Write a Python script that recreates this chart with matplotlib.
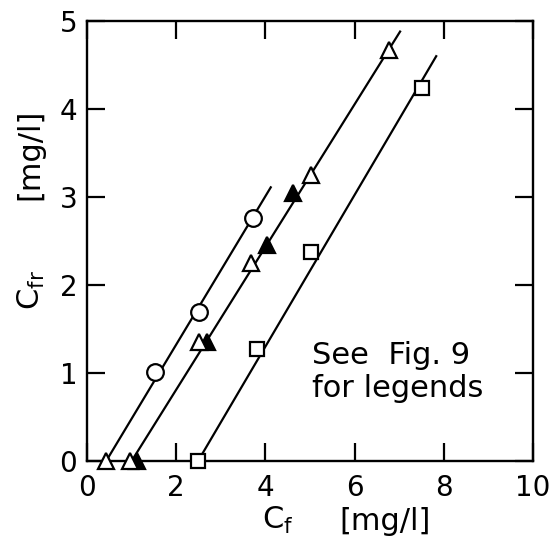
import numpy as np
import matplotlib
matplotlib.use('Agg')
import matplotlib.pyplot as plt

# open circles
circ_x = [1.52, 2.51, 3.72]
circ_y = [1.01, 1.69, 2.76]
circ_line_x = [0.43, 4.12]
circ_line_y = [0.0, 3.11]

# open triangles
otri_x = [0.43, 0.96, 2.52, 3.67, 5.02, 6.77]
otri_y = [0.0, 0.0, 1.35, 2.25, 3.25, 4.67]

# filled triangles
ftri_x = [1.12, 2.69, 4.03, 4.62]
ftri_y = [0.0, 1.35, 2.45, 3.05]

tri_line_x = [1.0, 7.02]
tri_line_y = [0.0, 4.88]

# open squares
sq_x = [2.49, 3.81, 5.02, 7.51]
sq_y = [0.0, 1.27, 2.38, 4.24]
sq_line_x = [2.49, 7.83]
sq_line_y = [0.0, 4.60]

xticks = [0, 2, 4, 6, 8, 10]
yticks = [0, 1, 2, 3, 4, 5]

plt.rcParams['font.family'] = 'DejaVu Sans'

fig = plt.figure(figsize=(5.56, 5.47), dpi=100)
ax = fig.add_axes([0.1565, 0.1572, 0.8021, 0.8044])

lw = 1.6
ax.plot(circ_line_x, circ_line_y, color='black', lw=lw, zorder=2)
ax.plot(tri_line_x, tri_line_y, color='black', lw=lw, zorder=2)
ax.plot(sq_line_x, sq_line_y, color='black', lw=lw, zorder=2)

ax.plot(circ_x, circ_y, 'o', ms=12, mfc='white', mec='black', mew=1.6, zorder=3, clip_on=False)
ax.plot(ftri_x, ftri_y, '^', ms=12, mfc='black', mec='black', mew=1.6, zorder=3, clip_on=False)
ax.plot(otri_x, otri_y, '^', ms=12, mfc='white', mec='black', mew=1.6, zorder=4, clip_on=False)
ax.plot(sq_x, sq_y, 's', ms=9.5, mfc='white', mec='black', mew=1.6, zorder=3, clip_on=False)

ax.set_xlim(0, 10)
ax.set_ylim(0, 5)
ax.set_xticks(xticks)
ax.set_yticks(yticks)
ax.tick_params(direction='in', length=13, width=1.6, labelsize=20,
               top=True, right=True, pad=7)
ax.tick_params(axis='x', pad=9)
for s in ax.spines.values():
    s.set_linewidth(1.7)

ax.text(5.05, 1.01, 'See  Fig. 9\nfor legends', fontsize=22, ha='left', va='center',
        linespacing=1.15)

fig.text(0.472, 0.02, r'$\mathregular{C_f}$', fontsize=22, ha='left', va='bottom')
fig.text(0.61, 0.02, '[mg/l]', fontsize=22, ha='left', va='bottom')
fig.text(0.028, 0.47, r'$\mathregular{C_{fr}}$', fontsize=22, rotation=90, ha='left', va='center')
fig.text(0.028, 0.718, '[mg/l]', fontsize=22, rotation=90, ha='left', va='center')

plt.savefig('out.png', dpi=100)
